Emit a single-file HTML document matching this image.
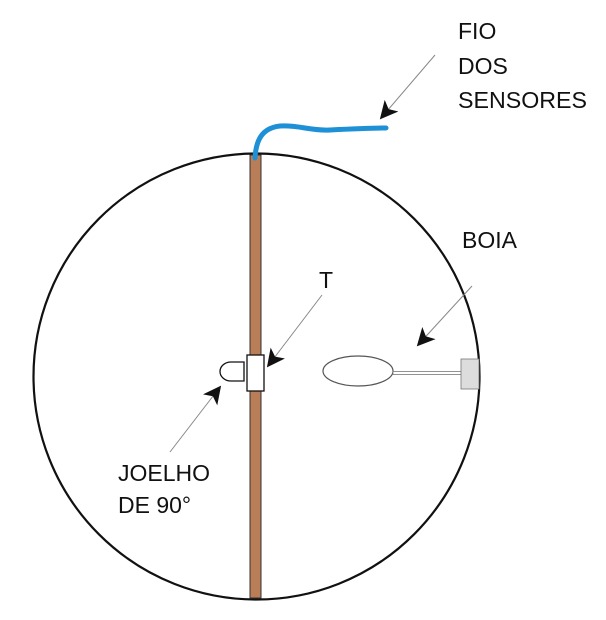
<!DOCTYPE html>
<html><head><style>html,body{margin:0;padding:0;background:#fff;}svg{display:block}</style></head>
<body>
<svg width="606" height="620" viewBox="0 0 606 620" xmlns="http://www.w3.org/2000/svg" font-family="Liberation Sans, sans-serif" font-size="23" fill="#111">
<defs>
<marker id="ah" viewBox="0 0 10 10" refX="9" refY="5" markerWidth="20" markerHeight="18" orient="auto" markerUnits="userSpaceOnUse">
<path d="M0,0 L10,5 L0,10 L2.5,5 Z" fill="#111"/>
</marker>
</defs>
<circle cx="256.5" cy="376.5" r="223" fill="none" stroke="#111" stroke-width="2.2"/>
<rect x="250" y="155" width="11" height="443" fill="#b97e57" stroke="#333" stroke-width="1"/>
<path d="M255,158 C256,140 262,128 280,126 C300,125 310,131 330,130 C350,129 370,128 386,128" fill="none" stroke="#1e90d6" stroke-width="5" stroke-linecap="round"/>
<path d="M244,362 L231,362 A11,9.5 0 0 0 231,381 L244,381 Z" fill="#fff" stroke="#111" stroke-width="1.3"/>
<rect x="247" y="355" width="17" height="36" fill="#fff" stroke="#111" stroke-width="1.3"/>
<ellipse cx="358" cy="371" rx="35" ry="15" fill="#fff" stroke="#555" stroke-width="1.2"/>
<rect x="393" y="371.5" width="69" height="3" fill="#fff" stroke="#777" stroke-width="0.8"/>
<rect x="461" y="359" width="18" height="30" fill="#ddd" stroke="#777" stroke-width="0.8"/>
<g stroke="#888" stroke-width="1" marker-end="url(#ah)">
<line x1="435" y1="55" x2="381" y2="118"/>
<line x1="472" y1="286" x2="418" y2="345"/>
<line x1="322" y1="295" x2="268" y2="366"/>
<line x1="170" y1="452" x2="220" y2="387"/>
</g>
<text x="458" y="39">FIO</text>
<text x="458" y="74">DOS</text>
<text x="458" y="108" textLength="129" lengthAdjust="spacingAndGlyphs">SENSORES</text>
<text x="462" y="248">BOIA</text>
<text x="319" y="288">T</text>
<text x="118" y="481">JOELHO</text>
<text x="118" y="513">DE 90°</text>
</svg>
</body></html>
